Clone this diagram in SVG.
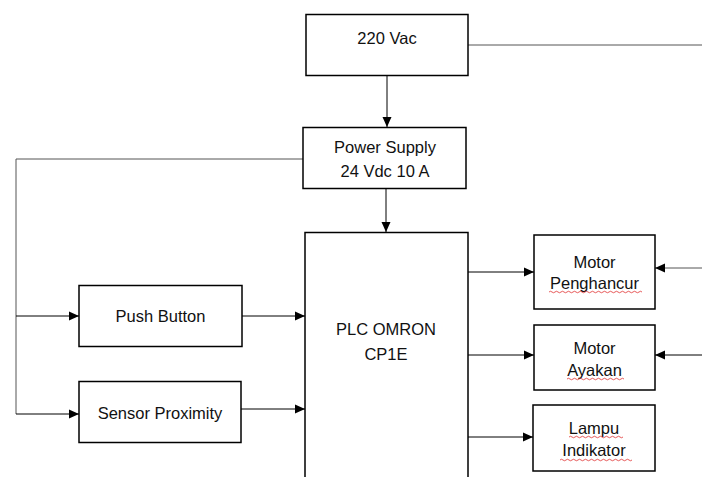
<svg xmlns="http://www.w3.org/2000/svg" width="702" height="477" viewBox="0 0 702 477">
<style>
.box{fill:#fff;stroke:#000;stroke-width:1.5}
.lbl{font-family:"Liberation Sans",Arial,sans-serif;font-size:16.5px;fill:#111;text-anchor:middle}
.ln{fill:none;stroke:#000;stroke-width:1}
.gr{fill:none;stroke:#555;stroke-width:1}
.sq{fill:none;stroke:#e03030;stroke-width:0.8}
</style>
<defs>
<marker id="ah" markerUnits="userSpaceOnUse" markerWidth="10" markerHeight="10" viewBox="0 0 10 10" refX="10" refY="5" orient="auto">
<path d="M0,0.5 L10,5 L0,9.5 Z" fill="#000"/>
</marker>
</defs>
<rect width="702" height="477" fill="#fff"/>
<g id="connectors">
<path class="gr" d="M468,45 H702"/>
<path class="ln" d="M387,75 V127" marker-end="url(#ah)"/>
<path class="gr" d="M303,159 H16 V414"/>
<path class="ln" d="M386,189 V232" marker-end="url(#ah)"/>
<path class="ln" d="M16,316 H79" marker-end="url(#ah)"/>
<path class="ln" d="M16,414 H79" marker-end="url(#ah)"/>
<path class="ln" d="M242,316 H305" marker-end="url(#ah)"/>
<path class="ln" d="M241,409 H305" marker-end="url(#ah)"/>
<path class="ln" d="M468,272 H534" marker-end="url(#ah)"/>
<path class="ln" d="M468,355 H534" marker-end="url(#ah)"/>
<path class="ln" d="M468,437 H533" marker-end="url(#ah)"/>
<path class="gr" d="M702,268 H655" marker-end="url(#ah)"/>
<path class="ln" d="M702,355 H655" marker-end="url(#ah)"/>
</g>
<g id="n220">
<rect class="box" x="306" y="14.5" width="162" height="61"/>
<text class="lbl" x="387" y="44">220 Vac</text>
</g>
<g id="psu">
<rect class="box" x="303" y="127.5" width="163" height="61"/>
<text class="lbl" x="385" y="153">Power Supply</text>
<text class="lbl" x="385" y="177">24 Vdc 10 A</text>
</g>
<g id="plc">
<rect class="box" x="305" y="232.5" width="163" height="250"/>
<text class="lbl" x="386" y="335">PLC OMRON</text>
<text class="lbl" x="386" y="360">CP1E</text>
</g>
<g id="push">
<rect class="box" x="79" y="285.5" width="163" height="61"/>
<text class="lbl" x="160.5" y="322">Push Button</text>
</g>
<g id="sensor">
<rect class="box" x="79" y="381.5" width="162" height="61"/>
<text class="lbl" x="160" y="419">Sensor Proximity</text>
</g>
<g id="motor1">
<rect class="box" x="534" y="235" width="121" height="74"/>
<text class="lbl" x="594.5" y="268">Motor</text>
<text class="lbl" x="594.5" y="289">Penghancur</text>
<path class="sq" d="M549,292 q1.5,-1.5 3,0 t3,0 t3,0 t3,0 t3,0 t3,0 t3,0 t3,0 t3,0 t3,0 t3,0 t3,0 t3,0 t3,0 t3,0 t3,0 t3,0 t3,0 t3,0 t3,0 t3,0 t3,0 t3,0 t3,0 t3,0 t3,0 t3,0 t3,0 t3,0 t3,0 t3,0"/>
</g>
<g id="motor2">
<rect class="box" x="534" y="325" width="121" height="65"/>
<text class="lbl" x="594.5" y="354">Motor</text>
<text class="lbl" x="594.5" y="376">Ayakan</text>
<path class="sq" d="M567,379 q1.5,-1.5 3,0 t3,0 t3,0 t3,0 t3,0 t3,0 t3,0 t3,0 t3,0 t3,0 t3,0 t3,0 t3,0 t3,0 t3,0 t3,0 t3,0 t3,0 t3,0"/>
</g>
<g id="lampu">
<rect class="box" x="533" y="405" width="122" height="66"/>
<text class="lbl" x="594" y="434">Lampu</text>
<text class="lbl" x="594" y="456">Indikator</text>
<path class="sq" d="M569,437 q1.5,-1.5 3,0 t3,0 t3,0 t3,0 t3,0 t3,0 t3,0 t3,0 t3,0 t3,0 t3,0 t3,0 t3,0 t3,0 t3,0 t3,0 t3,0 t3,0"/>
<path class="sq" d="M560,460 q1.5,-1.5 3,0 t3,0 t3,0 t3,0 t3,0 t3,0 t3,0 t3,0 t3,0 t3,0 t3,0 t3,0 t3,0 t3,0 t3,0 t3,0 t3,0 t3,0 t3,0 t3,0 t3,0 t3,0 t3,0 t3,0"/>
</g>
</svg>
